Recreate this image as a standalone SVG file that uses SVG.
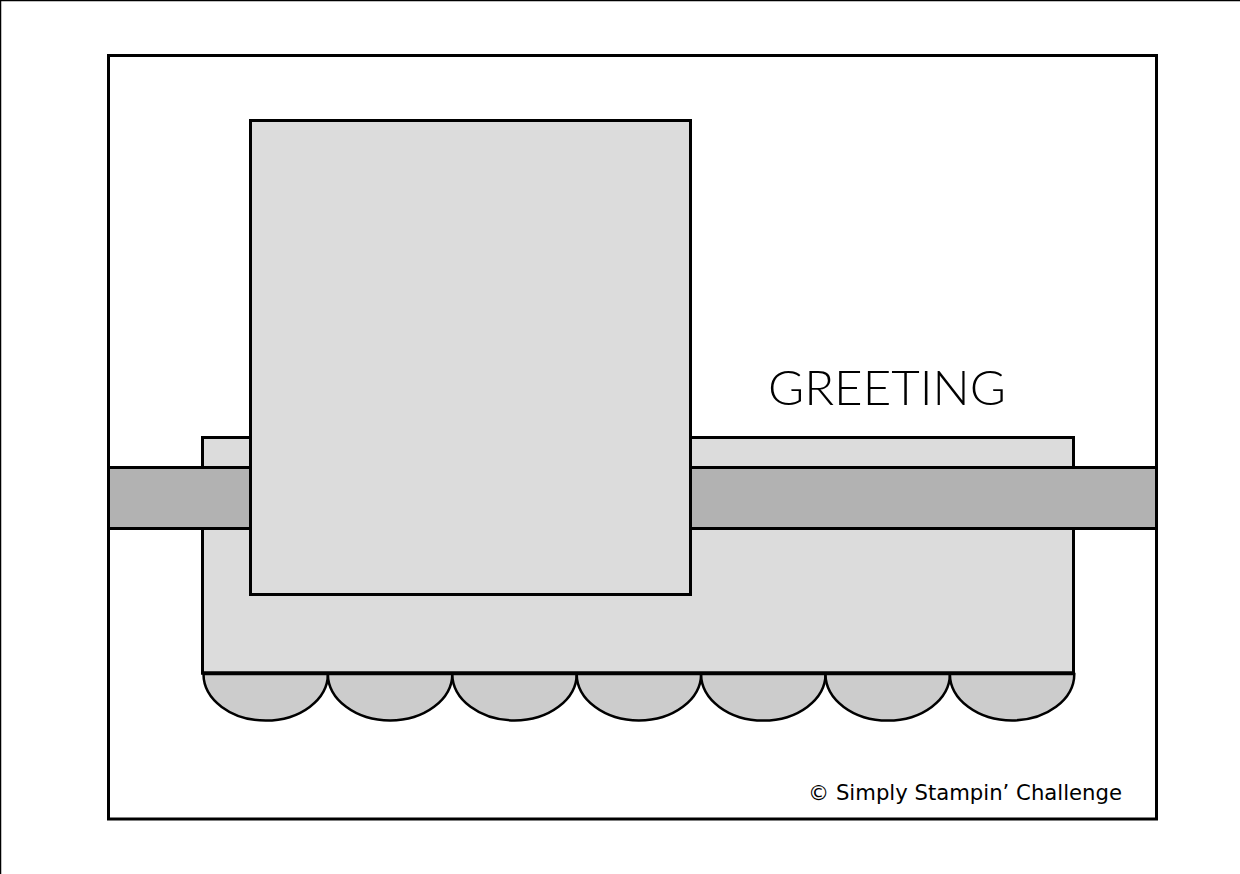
<svg xmlns="http://www.w3.org/2000/svg" width="1240" height="874" viewBox="0 0 1240 874">
  <style>
    .ln { stroke: #000; stroke-width: 3; }
    .light { fill: #dcdcdc; }
    .band { fill: #b2b2b2; }
    .scallop { fill: #cccccc; stroke: #000; stroke-width: 2.5; }
    .greet { font-family: Lato, "Open Sans", "Liberation Sans", sans-serif; font-weight: 300; font-size: 47px; fill: #000; }
    .copy { font-family: "DejaVu Sans", "Liberation Sans", sans-serif; font-size: 22px; fill: #000; }
  </style>
  <rect width="1240" height="874" fill="#fff"/>
  <g id="frame">
    <line x1="0.5" y1="0" x2="0.5" y2="874" stroke="#000" stroke-width="1.5"/>
    <line x1="0" y1="0.5" x2="1240" y2="0.5" stroke="#000" stroke-width="1.5"/>
  </g>
  <g id="card">
    <rect x="108.5" y="55.5" width="1048" height="763.5" fill="#fff" class="ln"/>
  </g>
  <g id="panel">
    <rect x="202.5" y="437.5" width="871" height="235.5" class="light ln"/>
  </g>
  <g id="scallops">
    <path class="scallop" d="M203.5 674 A62.2 46.5 0 0 0 327.9 674 Z"/>
    <path class="scallop" d="M327.9 674 A62.2 46.5 0 0 0 452.3 674 Z"/>
    <path class="scallop" d="M452.3 674 A62.2 46.5 0 0 0 576.7 674 Z"/>
    <path class="scallop" d="M576.7 674 A62.2 46.5 0 0 0 701.1 674 Z"/>
    <path class="scallop" d="M701.1 674 A62.2 46.5 0 0 0 825.5 674 Z"/>
    <path class="scallop" d="M825.5 674 A62.2 46.5 0 0 0 949.9 674 Z"/>
    <path class="scallop" d="M949.9 674 A62.2 46.5 0 0 0 1074.3 674 Z"/>
    <line x1="201" y1="673" x2="1075" y2="673" class="ln" stroke-width="3.5"/>
  </g>
  <g id="ribbon">
    <rect x="108.5" y="467.5" width="1048" height="61" class="band ln"/>
  </g>
  <g id="photo">
    <rect x="250.5" y="120.5" width="440" height="474" class="light ln"/>
  </g>
  <g id="greeting">
    <text class="greet" x="768" y="405" textLength="238" lengthAdjust="spacingAndGlyphs">GREETING</text>
  </g>
  <g id="copyright">
    <text class="copy" x="808" y="800" textLength="314" lengthAdjust="spacingAndGlyphs">© Simply Stampin’ Challenge</text>
  </g>
</svg>
